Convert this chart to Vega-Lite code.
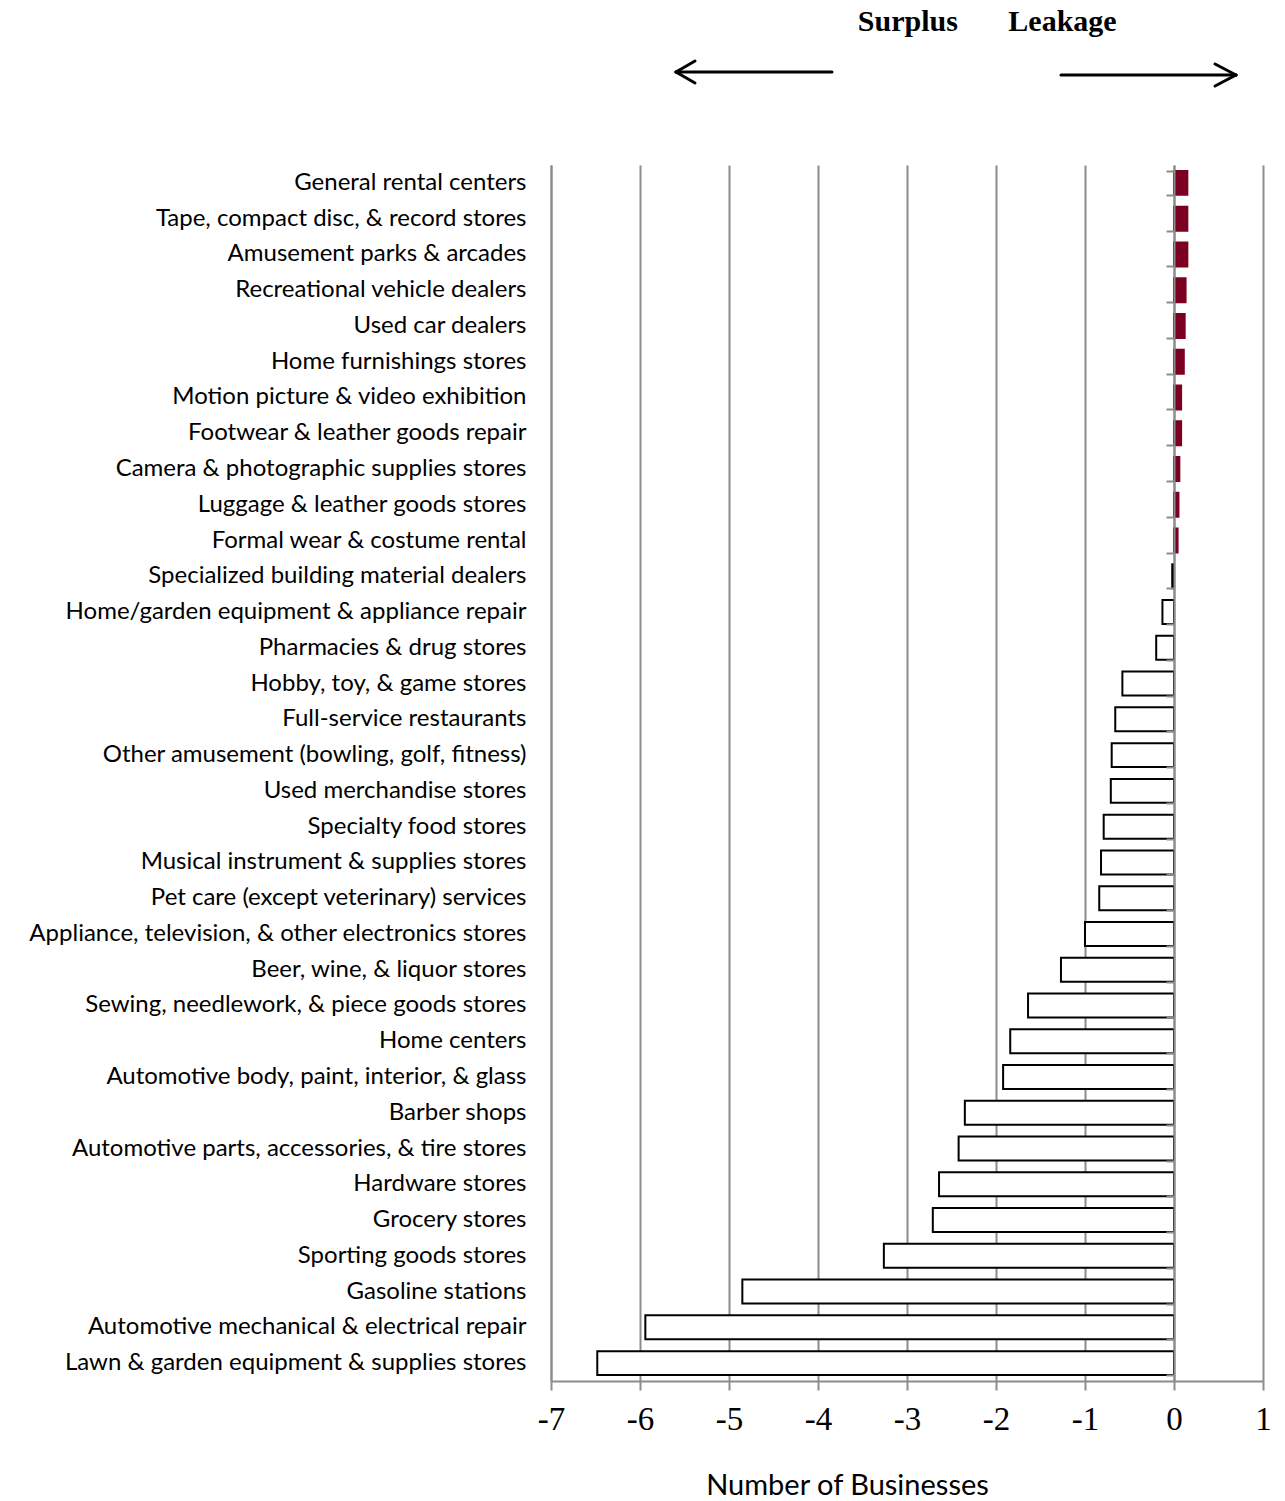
{
  "$schema": "https://vega.github.io/schema/vega-lite/v6.json",
  "background": "white",
  "padding": {"left": 28, "top": 5, "right": 5, "bottom": 5},
  "spacing": 0,
  "config": {"view": {"stroke": null}, "concat": {"spacing": 0}},
  "datasets": {
    "stores": [
      {"category": "General rental centers", "value": 0.15},
      {"category": "Tape, compact disc, & record stores", "value": 0.15},
      {"category": "Amusement parks & arcades", "value": 0.15},
      {"category": "Recreational vehicle dealers", "value": 0.13},
      {"category": "Used car dealers", "value": 0.12},
      {"category": "Home furnishings stores", "value": 0.11},
      {"category": "Motion picture & video exhibition", "value": 0.08},
      {"category": "Footwear & leather goods repair", "value": 0.08},
      {"category": "Camera & photographic supplies stores", "value": 0.06},
      {"category": "Luggage & leather goods stores", "value": 0.05},
      {"category": "Formal wear & costume rental", "value": 0.04},
      {"category": "Specialized building material dealers", "value": -0.02},
      {"category": "Home/garden equipment & appliance repair", "value": -0.13},
      {"category": "Pharmacies & drug stores", "value": -0.2},
      {"category": "Hobby, toy, & game stores", "value": -0.58},
      {"category": "Full-service restaurants", "value": -0.66},
      {"category": "Other amusement (bowling, golf, fitness)", "value": -0.7},
      {"category": "Used merchandise stores", "value": -0.71},
      {"category": "Specialty food stores", "value": -0.79},
      {"category": "Musical instrument & supplies stores", "value": -0.82},
      {"category": "Pet care (except veterinary) services", "value": -0.84},
      {"category": "Appliance, television, & other electronics stores", "value": -1.0},
      {"category": "Beer, wine, & liquor stores", "value": -1.27},
      {"category": "Sewing, needlework, & piece goods stores", "value": -1.64},
      {"category": "Home centers", "value": -1.84},
      {"category": "Automotive body, paint, interior, & glass", "value": -1.92},
      {"category": "Barber shops", "value": -2.35},
      {"category": "Automotive parts, accessories, & tire stores", "value": -2.42},
      {"category": "Hardware stores", "value": -2.64},
      {"category": "Grocery stores", "value": -2.71},
      {"category": "Sporting goods stores", "value": -3.26},
      {"category": "Gasoline stations", "value": -4.85},
      {"category": "Automotive mechanical & electrical repair", "value": -5.94},
      {"category": "Lawn & garden equipment & supplies stores", "value": -6.48}
    ],
    "arrows": [
      {"part": "surplus shaft", "x": -5.596, "y": 93, "x2": -3.843, "y2": 93},
      {"part": "surplus head upper", "x": -5.596, "y": 93, "x2": -5.382, "y2": 104},
      {"part": "surplus head lower", "x": -5.596, "y": 93, "x2": -5.382, "y2": 82},
      {"part": "leakage shaft", "x": -1.27, "y": 90, "x2": 0.697, "y2": 90},
      {"part": "leakage head upper", "x": 0.697, "y": 90, "x2": 0.461, "y2": 101},
      {"part": "leakage head lower", "x": 0.697, "y": 90, "x2": 0.461, "y2": 79}
    ],
    "headings": [
      {"label": "Surplus", "x": -2.99, "y": 143},
      {"label": "Leakage", "x": -1.253, "y": 143}
    ]
  },
  "vconcat": [
    {
      "width": 712,
      "height": 160,
      "layer": [
        {
          "data": {"name": "arrows"},
          "mark": {"type": "rule", "color": "black", "strokeWidth": 3, "strokeCap": "round"},
          "encoding": {
            "x": {"field": "x", "type": "quantitative", "scale": {"domain": [-7, 1], "nice": false, "zero": false}, "axis": null},
            "x2": {"field": "x2"},
            "y": {"field": "y", "type": "quantitative", "scale": {"domain": [0, 160], "nice": false, "zero": false}, "axis": null},
            "y2": {"field": "y2"}
          }
        },
        {
          "data": {"name": "headings"},
          "mark": {"type": "text", "font": "Liberation Serif", "fontWeight": "bold", "fontSize": 30, "color": "black", "align": "center", "baseline": "middle"},
          "encoding": {
            "x": {"field": "x", "type": "quantitative"},
            "y": {"field": "y", "type": "quantitative"},
            "text": {"field": "label"}
          }
        }
      ]
    },
    {
      "width": 712,
      "height": 1216,
      "data": {"name": "stores"},
      "layer": [
        {
          "mark": {"type": "bar", "strokeWidth": 2},
          "encoding": {
            "y": {
              "field": "category", "type": "nominal", "sort": null,
              "scale": {"paddingInner": 0.33, "paddingOuter": 0.165},
              "axis": {
                "orient": "left", "title": null, "ticks": false, "labelPadding": 25,
                "labelFont": "Lato", "labelFontSize": 24, "labelColor": "black", "labelLimit": 800,
                "domain": true, "domainColor": "#8c8c8c", "domainWidth": 2, "grid": false
              }
            },
            "x": {
              "field": "value", "type": "quantitative",
              "scale": {"domain": [-7, 1], "nice": false, "zero": false},
              "axis": {
                "values": [-7, -6, -5, -4, -3, -2, -1, 0, 1],
                "labelExpr": "'' + datum.value",
                "title": "Number of Businesses", "titleFont": "Lato", "titleFontSize": 29,
                "titleFontWeight": "normal", "titleColor": "black", "titlePadding": 35, "titleX": 296,
                "labelFont": "Liberation Serif", "labelFontSize": 33, "labelColor": "black",
                "labelPadding": 13, "labelFlush": false,
                "grid": true, "gridColor": "#8c8c8c", "gridWidth": 2,
                "domainColor": "#8c8c8c", "domainWidth": 2,
                "tickColor": "#8c8c8c", "tickWidth": 2, "tickSize": 9
              }
            },
            "x2": {"datum": 0},
            "fill": {"condition": {"test": "datum.value > 0", "value": "#7B0022"}, "value": "white"},
            "stroke": {"condition": {"test": "datum.value > 0", "value": "#7B0022"}, "value": "black"}
          }
        },
        {
          "mark": {"type": "point", "opacity": 0},
          "encoding": {
            "y": {
              "field": "category", "type": "nominal", "sort": null,
              "axis": {
                "orient": "left", "title": null, "labels": false, "offset": -623,
                "ticks": true, "tickBand": "extent", "tickSize": 8, "tickColor": "#8c8c8c", "tickWidth": 2,
                "domain": true, "domainColor": "#8c8c8c", "domainWidth": 2, "grid": false, "zindex": 1
              }
            }
          }
        }
      ],
      "resolve": {"axis": {"y": "independent"}}
    }
  ]
}
